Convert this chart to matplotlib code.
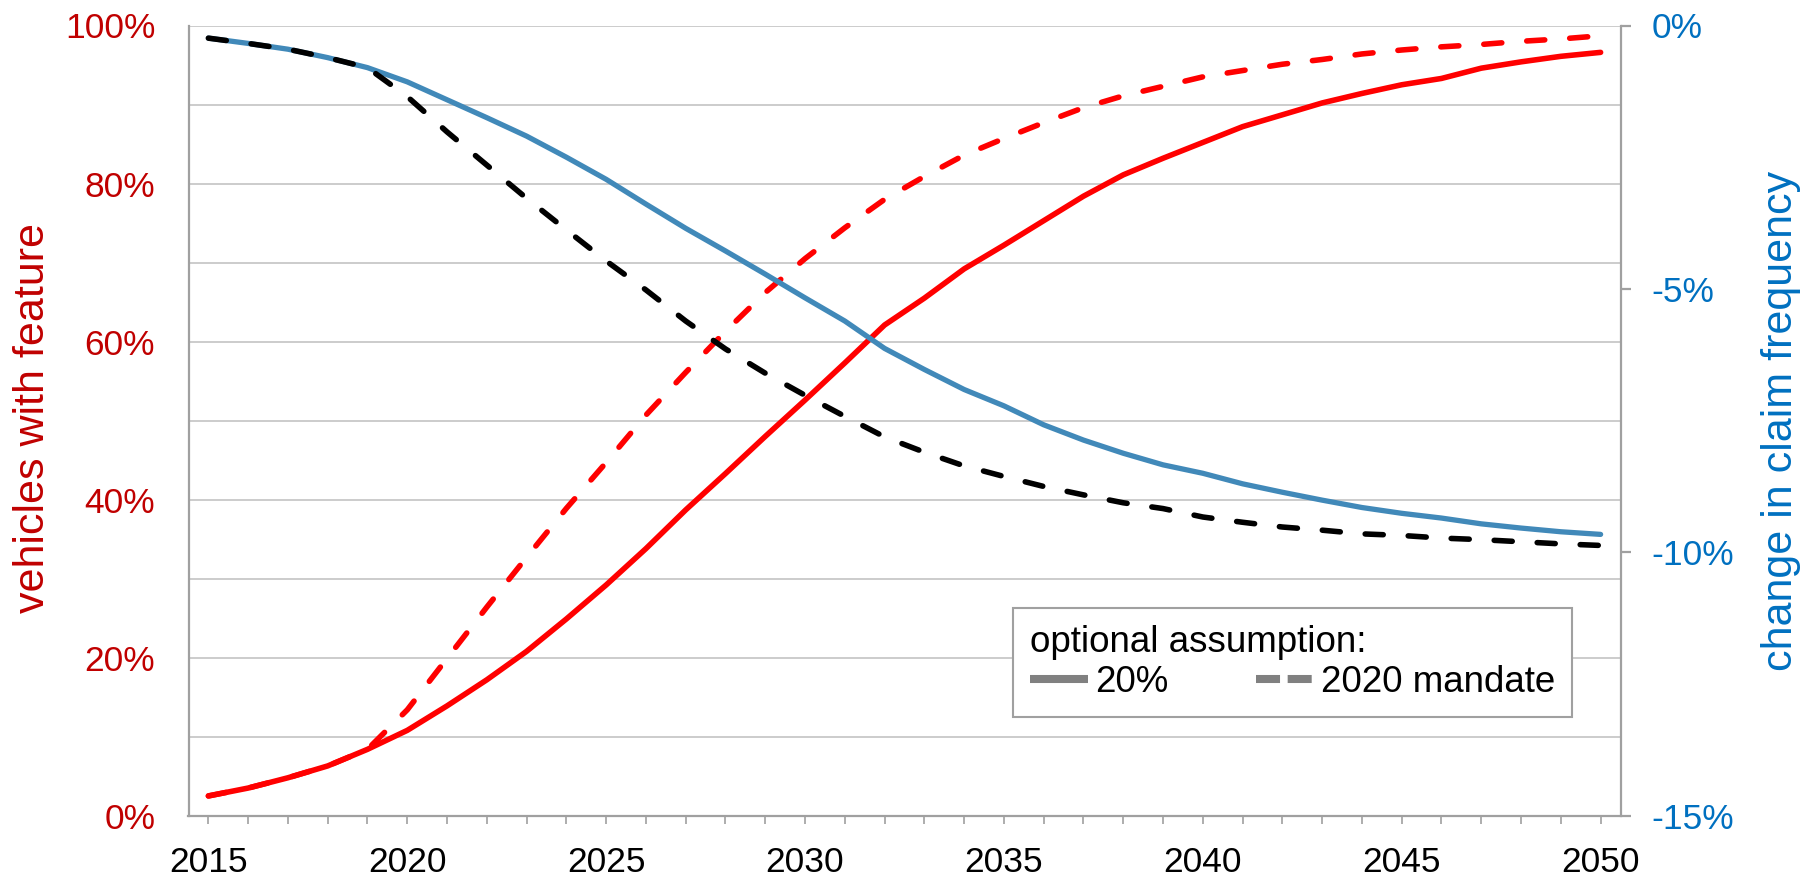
import matplotlib
matplotlib.use('Agg')
import matplotlib.pyplot as plt
from matplotlib.lines import Line2D

plt.rcParams['font.family'] = ['Liberation Sans', 'DejaVu Sans']
plt.rcParams['lines.scale_dashes'] = False

# ---------------- data ----------------
years = list(range(2015, 2051))

# vehicles with feature (%), left axis
feat_20 = [2.5, 3.5, 4.8, 6.3, 8.4, 10.8, 13.9, 17.2, 20.8, 24.9, 29.2, 33.8,
           38.7, 43.3, 48.0, 52.6, 57.3, 62.1, 65.5, 69.2, 72.2, 75.3, 78.4,
           81.1, 83.2, 85.2, 87.2, 88.7, 90.2, 91.4, 92.5, 93.3, 94.6, 95.4,
           96.1, 96.6]
feat_mandate = [2.5, 3.5, 4.8, 6.3, 8.4, 13.4, 19.9, 26.4, 32.7, 38.9, 44.7,
                50.7, 56.1, 61.3, 66.2, 70.5, 74.4, 78.0, 80.9, 83.6, 85.7,
                87.7, 89.6, 91.1, 92.3, 93.5, 94.3, 95.1, 95.7, 96.4, 96.9,
                97.3, 97.6, 98.0, 98.3, 98.7]

# change in claim frequency (%), right axis
claim_20 = [-0.24, -0.34, -0.45, -0.61, -0.80, -1.07, -1.41, -1.75, -2.10,
            -2.50, -2.92, -3.39, -3.85, -4.28, -4.72, -5.17, -5.61, -6.13,
            -6.53, -6.91, -7.22, -7.58, -7.87, -8.12, -8.34, -8.50, -8.70,
            -8.86, -9.01, -9.15, -9.26, -9.35, -9.46, -9.54, -9.61, -9.66]
claim_mandate = [-0.24, -0.34, -0.45, -0.61, -0.80, -1.35, -2.02, -2.65,
                 -3.28, -3.88, -4.47, -5.02, -5.61, -6.14, -6.60, -7.02,
                 -7.42, -7.81, -8.10, -8.36, -8.56, -8.75, -8.91, -9.06,
                 -9.17, -9.33, -9.43, -9.52, -9.58, -9.65, -9.68, -9.73,
                 -9.76, -9.80, -9.84, -9.87]

left_ticks = [0, 20, 40, 60, 80, 100]
left_labels = ['0%', '20%', '40%', '60%', '80%', '100%']
right_ticks = [0, -5, -10, -15]
right_labels = ['0%', '-5%', '-10%', '-15%']
x_major = list(range(2015, 2051, 5))

legend_title = 'optional assumption:'
legend_labels = ['20%', '2020 mandate']

# ---------------- figure ----------------
W, H = 1810, 877
fig = plt.figure(figsize=(W / 100, H / 100), dpi=100)
L, R, T, B = 188.5, 1620.5, 25.5, 815.7
ax = fig.add_axes([L / W, 1 - B / H, (R - L) / W, (B - T) / H])
ax2 = ax.twinx()

RED = '#FF0000'
BLUE = '#4189B9'
GRAY = '#a0a0a0'

ax.plot(years, feat_mandate, color=RED, lw=4, dashes=(13, 18),
        dash_capstyle='round', zorder=2)
ax.plot(years, feat_20, color=RED, lw=4, solid_capstyle='round', zorder=3)
ax2.plot(years, claim_20, color=BLUE, lw=3.8, solid_capstyle='round', zorder=2)
ax2.plot(years, claim_mandate, color='black', lw=4, dashes=(13, 18),
         dash_capstyle='round', zorder=3)

ax.set_xlim(2014.5, 2050.5)
ax.set_ylim(0, 100)
ax2.set_ylim(-15, 0)

ax.set_yticks(left_ticks)
ax.set_yticklabels(left_labels)
ax.set_yticks([10, 30, 50, 70, 90], minor=True)
ax.grid(axis='y', which='both', color='#c4c4c4', lw=1.2)
ax.set_axisbelow(True)
ax.tick_params(axis='y', which='both', length=0, pad=24, labelsize=25.5,
               labelcolor='#C00000')

ax.set_xticks(x_major)
ax.set_xticklabels([str(y) for y in x_major])
ax.set_xticks(years, minor=True)
ax.tick_params(axis='x', which='both', length=5.5, width=1.2, color=GRAY,
               direction='out', pad=16, labelsize=25.5, labelcolor='black')

ax2.set_yticks(right_ticks)
ax2.set_yticklabels(right_labels)
ax2.tick_params(axis='y', length=7.5, width=1.6, color=GRAY, pad=15,
                labelsize=25.5, labelcolor='#0070C0')

for s in ['top', 'right']:
    ax.spines[s].set_visible(False)
for s in ['left', 'bottom']:
    ax.spines[s].set_color(GRAY)
    ax.spines[s].set_linewidth(1.6)
for s in ['top', 'left', 'bottom']:
    ax2.spines[s].set_visible(False)
ax2.spines['right'].set_color(GRAY)
ax2.spines['right'].set_linewidth(1.6)

fig.text(33 / W, 1 - 418 / H, 'vehicles with feature', rotation=90,
         ha='center', va='center', fontsize=31, color='#C00000')
fig.text(1781 / W, 1 - 421 / H, 'change in claim frequency', rotation=90,
         ha='center', va='center', fontsize=31, color='#0070C0')

h1 = Line2D([], [], color='#808080', lw=5.8, solid_capstyle='butt')
h2 = Line2D([], [], color='#808080', lw=5.8, dashes=(17.3, 5.5),
            dash_capstyle='butt')
leg = ax2.legend([h1, h2], legend_labels, ncol=2, title=legend_title,
                 loc='upper left', bbox_to_anchor=(1013 / W, 1 - 608 / H),
                 bbox_transform=fig.transFigure, fontsize=26.5,
                 title_fontsize=26.5, alignment='left', handlelength=1.58,
                 handletextpad=0.19, columnspacing=2.4, borderpad=0.45,
                 labelspacing=0.15, frameon=True, fancybox=False,
                 borderaxespad=0, framealpha=1)
leg.get_frame().set_edgecolor(GRAY)
leg.get_frame().set_linewidth(1.5)

fig.savefig('out.png', dpi=100)
